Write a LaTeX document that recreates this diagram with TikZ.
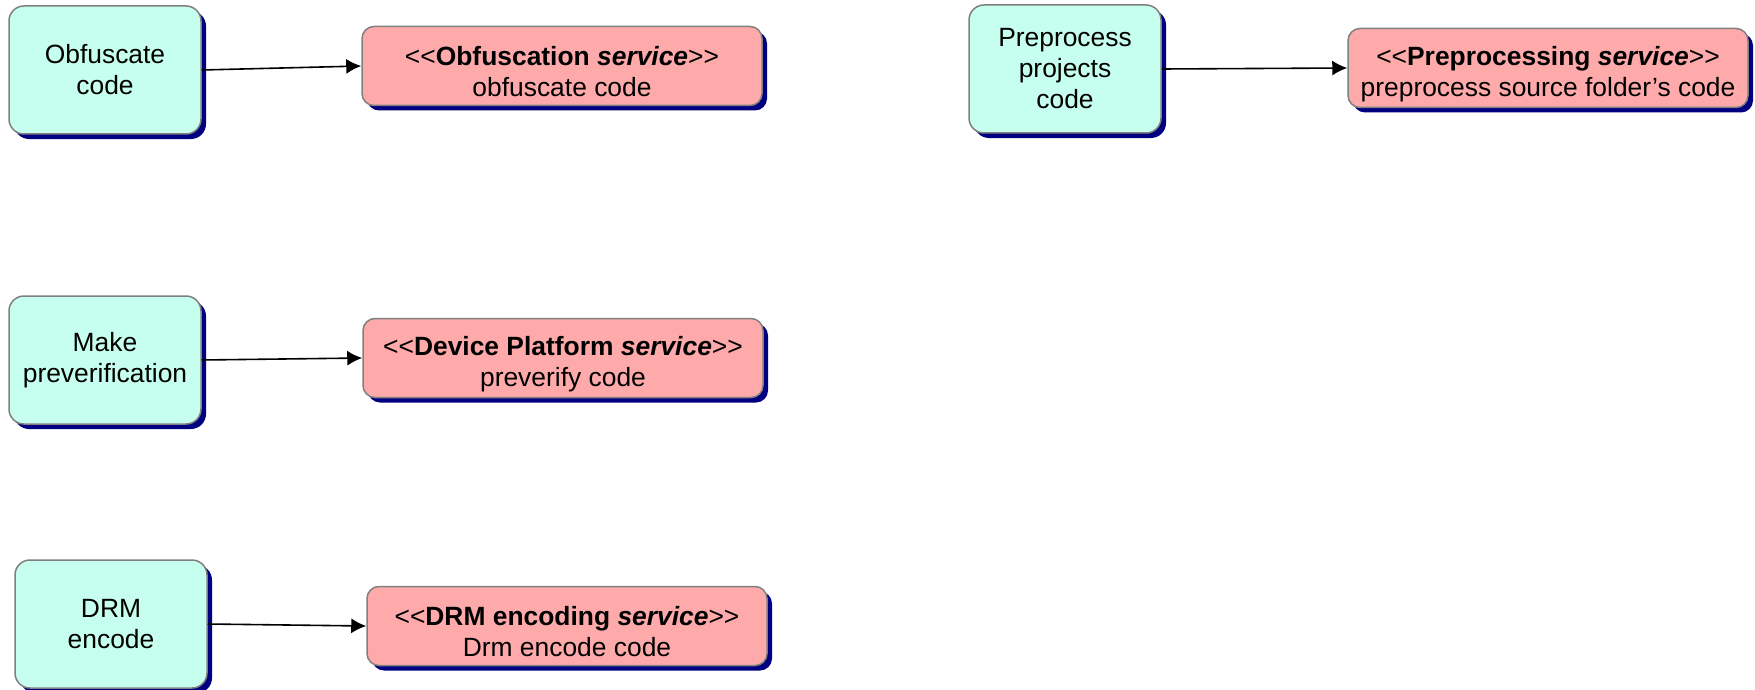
\documentclass[tikz,border=0pt]{standalone}
\usepackage{fontspec}
\setmainfont{Liberation Sans}
\usetikzlibrary{arrows.meta,shadows}
\definecolor{actfill}{RGB}{198,255,238}
\definecolor{svcfill}{RGB}{255,170,170}
\definecolor{boxline}{RGB}{128,128,128}
\definecolor{shadownavy}{RGB}{0,0,128}
\newcommand{\lt}{\rule{0pt}{15.4pt}<\kern0pt<}
\newcommand{\gt}{>\kern0pt>}
\begin{document}
\begin{tikzpicture}[x=0.5pt,y=-0.5pt,
  navyshadow/.style={drop shadow={shadow xshift=2.5pt, shadow yshift=-2.5pt, fill=shadownavy, opacity=1}},
  actbox/.style={draw=boxline, line width=0.75pt, fill=actfill, rounded corners=7.5pt,
    minimum width=96pt, minimum height=64pt, align=center, inner sep=0pt,
    font=\fontsize{13.2pt}{15.5pt}\selectfont, navyshadow},
  svcbox/.style={draw=boxline, line width=0.75pt, fill=svcfill, rounded corners=6pt,
    minimum width=200pt, minimum height=39.5pt, align=center, inner sep=0pt,
    font=\fontsize{13.2pt}{15.5pt}\selectfont, navyshadow},
  arr/.style={draw=black, line width=0.8pt, -{Latex[length=7.5pt,width=7.5pt]}}]
\useasboundingbox (0,0) rectangle (1755,690);

\node[actbox] (obf) at (105,70) {Obfuscate\\code};
\node[svcbox] (obfs) at (562,66) {\lt\textbf{Obfuscation \textit{service}}\gt\\obfuscate code};
\draw[arr] (obf.east) -- (obfs.west);

\node[actbox] (pre) at (1065,69) {Preprocess\\projects\\code};
\node[svcbox] (pres) at (1548,68) {\lt\textbf{Preprocessing \textit{service}}\gt\\preprocess source folder’s code};
\draw[arr] (pre.east) -- (pres.west);

\node[actbox] (mk) at (105,360) {Make\\preverification};
\node[svcbox] (mks) at (563,358) {\lt\textbf{Device Platform \textit{service}}\gt\\preverify code};
\draw[arr] (mk.east) -- (mks.west);

\node[actbox] (drm) at (111,624) {DRM\\encode};
\node[svcbox] (drms) at (567,626) {\lt\textbf{DRM encoding \textit{service}}\gt\\Drm encode code};
\draw[arr] (drm.east) -- (drms.west);
\end{tikzpicture}
\end{document}
